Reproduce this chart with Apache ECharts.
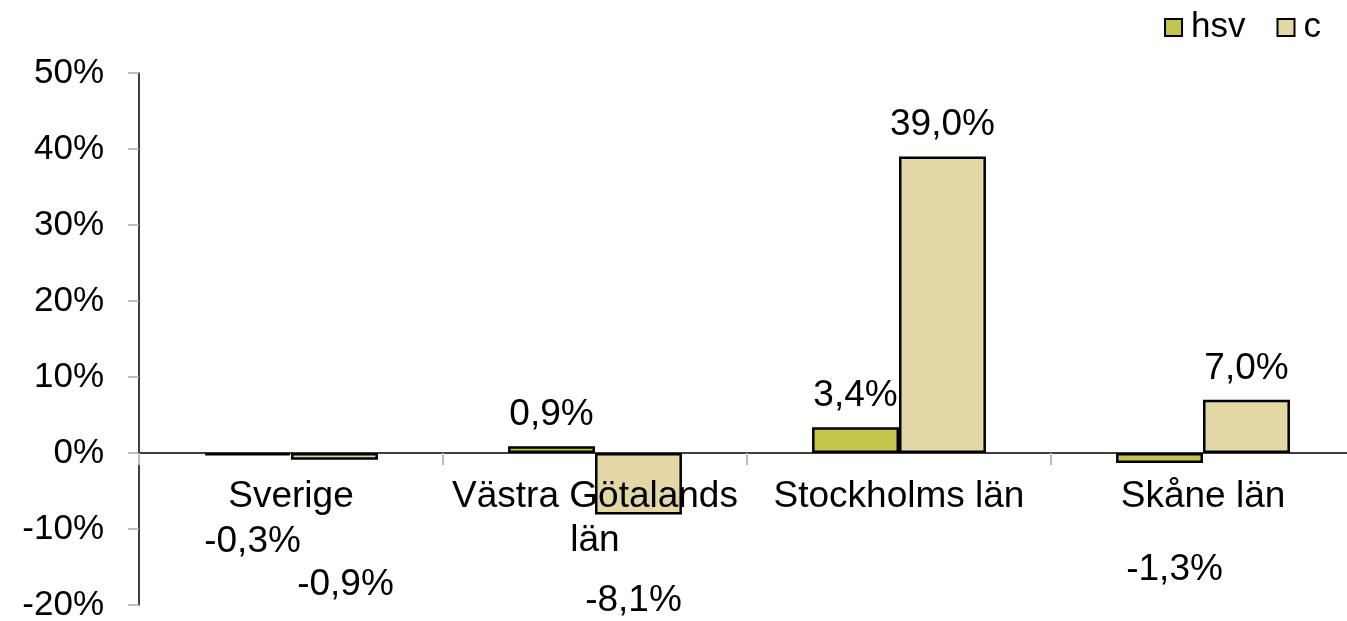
<!DOCTYPE html>
<html>
<head>
<meta charset="utf-8">
<script src="https://cdn.jsdelivr.net/npm/echarts@6/dist/echarts.min.js"></script>
<style>
  html, body { margin: 0; padding: 0; background: #fff; }
  #chart { width: 1347px; height: 621px; }
</style>
</head>
<body>
<div id="chart"></div>
<script>
// data
const categories = ["Sverige", "Västra Götalands län", "Stockholms län", "Skåne län"];
const hsvValues = [-0.3, 0.9, 3.4, -1.3];
const cValues = [-0.9, -8.1, 39.0, 7.0];
const yTicks = { min: -20, max: 50, interval: 10 };

// label nudges for the negative values (the original has them pushed down)
const hsvLabelOffsets = [[5, 63], null, null, [15, 83]];
const cLabelOffsets = [[11, 101], [-5, 63], null, null];

const font = "Liberation Sans, Arial, sans-serif";
const fs = 35;      // axis + legend
const fsBig = 37;   // category and value labels

function pct(v) {
  return v.toFixed(1).replace(".", ",") + "%";
}

function buildData(values, offsets) {
  return values.map(function (v, i) {
    const item = { value: v };
    if (v < 0) {
      item.label = { position: "bottom", distance: 5 };
      if (offsets[i]) item.label.offset = offsets[i];
    }
    return item;
  });
}

const chart = echarts.init(document.getElementById("chart"));

chart.setOption({
  animation: false,
  textStyle: { fontFamily: font, color: "#000" },
  legend: {
    top: 5,
    right: 21,
    itemWidth: 17,
    itemHeight: 17,
    itemGap: 31,
    icon: "rect",
    textStyle: { fontSize: fs, color: "#000", fontFamily: font, padding: [0, 0, 0, 4] },
    data: ["hsv", "c"]
  },
  grid: { left: 139, right: -8, top: 73, bottom: 16, outerBoundsMode: "none", containLabel: false },
  xAxis: {
    type: "category",
    data: categories,
    z: 5, // category text drawn over the bars like the original
    axisLine: { onZero: true, lineStyle: { color: "#000", width: 1.5 } },
    axisTick: { show: true, length: 12, lineStyle: { color: "#bbb", width: 2 } },
    axisLabel: {
      fontSize: fsBig,
      color: "#000",
      fontFamily: font,
      // labels sit at the grid bottom, pull them up under the zero line
      margin: -130,
      lineHeight: 44,
      interval: 0,
      formatter: function (v) {
        // long names wrap before the last word
        if (v.length > 16) {
          const k = v.lastIndexOf(" ");
          return v.slice(0, k) + "\n" + v.slice(k + 1);
        }
        return v;
      }
    },
    splitLine: { show: false }
  },
  yAxis: {
    type: "value",
    min: yTicks.min,
    max: yTicks.max,
    interval: yTicks.interval,
    axisLine: { show: true, lineStyle: { color: "#000", width: 1.5 } },
    axisTick: { show: true, length: 11, lineStyle: { color: "#aaa", width: 1.5 } },
    axisLabel: {
      fontSize: fs,
      color: "#000",
      fontFamily: font,
      margin: 35,
      formatter: function (v) { return v + "%"; }
    },
    splitLine: { show: false }
  },
  series: [
    {
      name: "hsv",
      type: "bar",
      data: buildData(hsvValues, hsvLabelOffsets),
      barGap: "0%",
      barCategoryGap: "42.8%",
      itemStyle: { color: "#c5c54b", borderColor: "#000", borderWidth: 2.5 },
      label: {
        show: true,
        position: "top",
        distance: 13,
        fontSize: fsBig,
        color: "#000",
        fontFamily: font,
        formatter: function (p) { return pct(p.value); }
      }
    },
    {
      name: "c",
      type: "bar",
      data: buildData(cValues, cLabelOffsets),
      barGap: "0%",
      barCategoryGap: "42.8%",
      itemStyle: { color: "#e3d7a6", borderColor: "#000", borderWidth: 2.5 },
      label: {
        show: true,
        position: "top",
        distance: 13,
        fontSize: fsBig,
        color: "#000",
        fontFamily: font,
        formatter: function (p) { return pct(p.value); }
      }
    }
  ]
});

window.addEventListener("resize", function () {
  chart.resize();
});
</script>
</body>
</html>
